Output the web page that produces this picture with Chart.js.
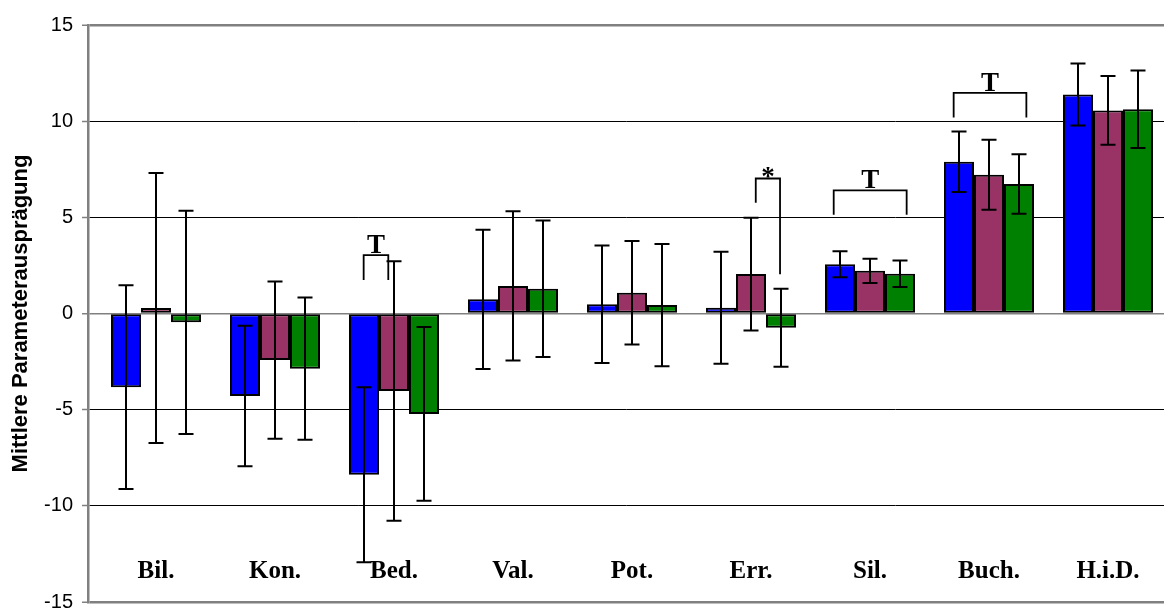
<!DOCTYPE html>
<html>
<head>
<meta charset="utf-8">
<script src="https://cdn.jsdelivr.net/npm/chart.js@4.4.1/dist/chart.umd.min.js"></script>
<style>
  html, body { margin: 0; padding: 0; background: #ffffff; overflow: hidden; }
  #wrap { position: relative; width: 1164px; height: 610px; }
</style>
</head>
<body>
<div id="wrap"><canvas id="c"></canvas></div>
<script>
// ---- data ----
const categories = ['Bil.', 'Kon.', 'Bed.', 'Val.', 'Pot.', 'Err.', 'Sil.', 'Buch.', 'H.i.D.'];
const blueValues   = [-3.83, -4.29, -8.38, 0.74, 0.48, 0.30, 2.56, 7.89, 11.39];
const blueErrors   = [5.30, 3.65, 4.55, 3.62, 3.05, 2.91, 0.68, 1.57, 1.61];
const maroonValues = [0.29, -2.42, -4.03, 1.43, 1.08, 2.05, 2.22, 7.21, 10.56];
const maroonErrors = [7.02, 4.09, 6.75, 3.88, 2.69, 2.93, 0.63, 1.82, 1.79];
const greenValues  = [-0.46, -2.87, -5.22, 1.29, 0.44, -0.74, 2.07, 6.73, 10.62];
const greenErrors  = [5.80, 3.70, 4.52, 3.55, 3.18, 2.03, 0.69, 1.55, 2.01];
const yTicks = [-15, -10, -5, 0, 5, 10, 15];
const yTitle = 'Mittlere Parameterausprägung';
// significance brackets (data coordinates: category units / y values)
const brackets = [
  { label: 'T', x1: 1.745, x2: 1.952, top: 3.04,  leg1: 1.74,  leg2: 1.74 },
  { label: '*', x1: 5.040, x2: 5.244, top: 7.02,  leg1: 5.76,  leg2: 2.04 },
  { label: 'T', x1: 5.695, x2: 6.308, top: 6.40,  leg1: 5.13,  leg2: 5.13 },
  { label: 'T', x1: 6.703, x2: 7.314, top: 11.47, leg1: 10.19, leg2: 10.19 }
];

const toPoints = vals => vals.map((v, i) => ({ x: i, y: v }));

const errorBarPlugin = {
  id: 'errorBars',
  afterDatasetsDraw(chart) {
    const ctx = chart.ctx;
    const yScale = chart.scales.y;
    ctx.save();
    ctx.strokeStyle = '#000000';
    ctx.lineWidth = 2;
    chart.data.datasets.forEach((ds, di) => {
      const meta = chart.getDatasetMeta(di);
      meta.data.forEach((bar, i) => {
        const v = ds.data[i].y;
        const e = ds.errors[i];
        const x = bar.x;
        const yTop = yScale.getPixelForValue(v + e);
        const yBot = yScale.getPixelForValue(v - e);
        const cap = 7.5;
        ctx.beginPath();
        ctx.moveTo(x, yTop); ctx.lineTo(x, yBot);
        ctx.moveTo(x - cap, yTop); ctx.lineTo(x + cap, yTop);
        ctx.moveTo(x - cap, yBot); ctx.lineTo(x + cap, yBot);
        ctx.stroke();
      });
    });
    ctx.restore();
  }
};

const annotationPlugin = {
  id: 'annotations',
  afterDraw(chart) {
    const ctx = chart.ctx;
    const xs = chart.scales.x, ys = chart.scales.y;
    ctx.save();
    ctx.strokeStyle = '#000000';
    ctx.lineWidth = 1.8;
    ctx.fillStyle = '#000000';
    ctx.font = 'bold 27px "Liberation Serif", "Times New Roman", serif';
    ctx.textAlign = 'center';
    ctx.textBaseline = 'alphabetic';
    brackets.forEach(b => {
      const x1 = xs.getPixelForValue(b.x1), x2 = xs.getPixelForValue(b.x2);
      const yt = ys.getPixelForValue(b.top);
      ctx.beginPath();
      ctx.moveTo(x1, ys.getPixelForValue(b.leg1));
      ctx.lineTo(x1, yt);
      ctx.lineTo(x2, yt);
      ctx.lineTo(x2, ys.getPixelForValue(b.leg2));
      ctx.stroke();
      ctx.fillText(b.label, (x1 + x2) / 2, yt - 2 + (b.label === '*' ? 9 : 0));
    });
    ctx.font = 'bold 25px "Liberation Serif", "Times New Roman", serif';
    const base = chart.chartArea.bottom - 24;
    categories.forEach((c, i) => {
      ctx.fillText(c, xs.getPixelForValue(i), base);
    });
    ctx.restore();
  }
};

const gray = '#808080';

new Chart(document.getElementById('c'), {
  type: 'bar',
  data: {
    datasets: [
      { data: toPoints(blueValues),   errors: blueErrors,   backgroundColor: '#0000FF' },
      { data: toPoints(maroonValues), errors: maroonErrors, backgroundColor: '#993366' },
      { data: toPoints(greenValues),  errors: greenErrors,  backgroundColor: '#008000' }
    ]
  },
  options: {
    responsive: true,
    maintainAspectRatio: false,
    animation: false,
    devicePixelRatio: 1,
    layout: { padding: { top: 25, bottom: 8, left: 0, right: 0 } },
    datasets: {
      bar: {
        borderColor: '#000000',
        borderWidth: 2,
        borderSkipped: false,
        categoryPercentage: 90 / 119,
        barPercentage: 1.0
      }
    },
    plugins: {
      legend: { display: false },
      tooltip: { enabled: false }
    },
    scales: {
      x: {
        type: 'linear',
        display: false,
        min: (88 - 156) / 119,
        max: (1164 - 156) / 119,
        offset: false
      },
      y: {
        type: 'linear',
        min: yTicks[0],
        max: yTicks[yTicks.length - 1],
        afterBuildTicks: scale => { scale.ticks = yTicks.map(v => ({ value: v })); },
        afterFit: scale => { scale.width = 88; scale.paddingTop = 0; scale.paddingBottom = 0; },
        ticks: {
          color: '#000000',
          font: { family: '"Liberation Sans", Arial, sans-serif', size: 20 },
          padding: 9
        },
        grid: {
          color: ctx => (ctx.tick && (ctx.tick.value === 15 || ctx.tick.value === 0 || ctx.tick.value === -15)) ? gray : '#000000',
          lineWidth: ctx => (ctx.tick && (ctx.tick.value === 15 || ctx.tick.value === -15)) ? 2.5 : (ctx.tick && ctx.tick.value === 0 ? 1.5 : 1),
          tickLength: 6,
          tickColor: gray,
          tickWidth: 1.5
        },
        border: { color: gray, width: 2.5 },
        title: {
          display: true,
          text: yTitle,
          color: '#000000',
          font: { family: '"Liberation Sans", Arial, sans-serif', size: 22, weight: 'bold' },
          padding: { top: 8, bottom: 0 }
        }
      }
    }
  },
  plugins: [errorBarPlugin, annotationPlugin]
});
</script>
</body>
</html>
